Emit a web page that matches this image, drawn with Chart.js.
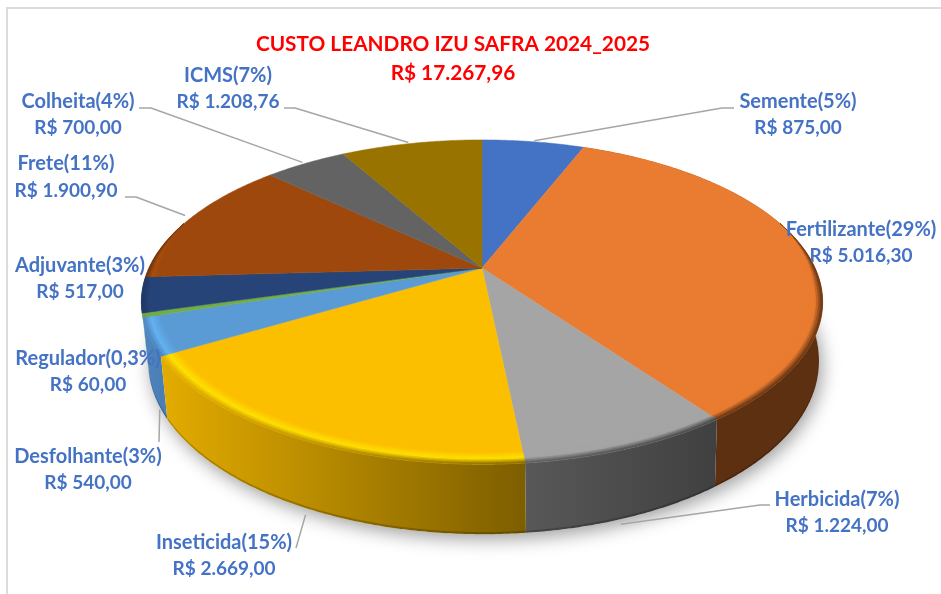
<!DOCTYPE html>
<html>
<head>
<meta charset="utf-8">
<style>
html,body{margin:0;padding:0;background:#fff;overflow:hidden;width:941px;height:594px}
#frame{position:absolute;left:6px;top:7px;width:960px;height:620px;border-left:2px solid #dcdcdc;border-top:2px solid #dcdcdc}
#wrap{position:absolute;left:0;top:0;width:941px;height:594px}
</style>
<script src="https://cdn.jsdelivr.net/npm/chart.js@4/dist/chart.umd.min.js"></script>
</head>
<body>
<div id="frame"></div>
<div id="wrap"><canvas id="c" width="941" height="594"></canvas></div>
<script>
const titleLines = ['CUSTO LEANDRO IZU SAFRA 2024_2025', 'R$ 17.267,96'];
const categories = ['Semente','Fertilizante','Herbicida','Inseticida','Desfolhante','Regulador','Adjuvante','Frete','Colheita','ICMS'];
const percents = ['5%','29%','7%','15%','3%','0,3%','3%','11%','4%','7%'];
const values = [875, 5016.30, 1224, 2669, 540, 60, 517, 1900.90, 700, 1208.76];
const colors = ['#4472c4','#ea7c31','#a5a5a5','#fcbf00','#5b9bd5','#70ad47','#264478','#9e480e','#636363','#997300'];
const ridgeColors = ['#4472c4','#ea7c31','#a5a5a5','#ffe100','#64b2f2','#70ad47','#264478','#a8500f','#636363','#997300'];
const wallStart = ['#2f528f','#5e3012','#404040','#7d5e00','#4a7fb5','#6f9f50','#1f3864','#6f330a','#444444','#6b5000'];
const wallEnd   = ['#2f528f','#5e3012','#585858','#e4ac00','#4f86bd','#6f9f50','#1f3864','#6f330a','#444444','#6b5000'];
// slices whose side wall shows, painted back to front
const wallOrder = [1, 2, 5, 4, 3];

// label placement: centre x, y of the two lines
const labelX  = [798, 861, 837, 224, 88, 88, 80, 66, 78, 228];
const labelY1 = [102, 230, 500, 543, 457, 359, 266, 164, 102, 76];
const labelY2 = [128, 256, 526, 569, 483, 385, 292, 191, 128, 102];
// leader lines: rim used, offset from rim point, then elbow points
const leaders = [
  {i:0, rim:'top', dx:1, dy:-1, pts:[[722,108],[734,108]]},
  {i:9, rim:'top', dx:-3, dy:-1, pts:[[295,108],[284,108]]},
  {i:8, rim:'top', dx:-3, dy:-1, pts:[[151,108],[139,108]]},
  {i:7, rim:'top', dx:-5, dy:-3, pts:[[136,197],[125,197]]},
  {i:2, rim:'bottom', dx:-8, dy:7, pts:[[760,505],[770,505]]},
  {i:3, rim:'bottom', dx:4, dy:8, pts:[[296,548]]},
  {i:4, rim:'bottom', dx:4, dy:11, pts:[[159,442]]}
];

const FONT = 'Lato, Carlito, sans-serif';
const PROJ = {cx:482, cy:268, rx:333, q:155, p:0.21};

function proj(th, r){
  const x = r*Math.sin(th), y = -r*Math.cos(th), w = 1 - PROJ.p*y;
  return [PROJ.cx + PROJ.rx*x/w, PROJ.cy + PROJ.q*y/w, y];
}
function projLow(th, inset){
  const t = proj(th, 1);
  return [PROJ.cx + (t[0]-PROJ.cx)*0.985 + 1.5, t[1] + 56 + 14*t[2] - (inset||0), t[2]];
}
function hex(c){ return [1,3,5].map(i=>parseInt(c.substr(i,2),16)); }
function mix(a,b,t){
  const A=hex(a),B=hex(b);
  return '#'+A.map((v,i)=>Math.round(v+(B[i]-v)*t).toString(16).padStart(2,'0')).join('');
}
function quad(ctx, pts, col){
  ctx.beginPath();
  pts.forEach((p,i)=> i?ctx.lineTo(p[0],p[1]):ctx.moveTo(p[0],p[1]));
  ctx.closePath();
  ctx.fillStyle=col; ctx.strokeStyle=col; ctx.lineWidth=0.6;
  ctx.fill(); ctx.stroke();
}
const STEP = Math.PI/360;
function band(g, upper, lower){
  const n=Math.max(2,Math.ceil((g[1]-g[0])/STEP)), pts=[];
  for(let k=0;k<=n;k++) pts.push(upper(g[0]+(g[1]-g[0])*k/n));
  for(let k=n;k>=0;k--) pts.push(lower(g[0]+(g[1]-g[0])*k/n));
  return pts;
}

const pie3d = {
  id:'pie3d',
  beforeDatasetsDraw(chart){
    const ctx = chart.ctx, arcs = chart.getDatasetMeta(0).data;
    const ang = arcs.map(a=>{
      const s=a.getProps(['startAngle','endAngle'],true);
      return [s.startAngle+Math.PI/2, s.endAngle+Math.PI/2];
    });
    ctx.save();
    // soft shadow of the base
    ctx.save();
    ctx.shadowColor='rgba(0,0,0,0.38)'; ctx.shadowBlur=18; ctx.shadowOffsetY=5; ctx.shadowOffsetX=3;
    ctx.beginPath();
    for(let a=0;a<Math.PI*2;a+=STEP*2){ const p=projLow(a); a?ctx.lineTo(p[0],p[1]):ctx.moveTo(p[0],p[1]); }
    ctx.closePath(); ctx.fillStyle='#fff'; ctx.fill();
    ctx.restore();
    // walls
    wallOrder.forEach(i=>{
      const g=ang[i];
      const x0=proj(g[0],1)[0], x1=proj(g[1],1)[0];
      const grad=ctx.createLinearGradient(x0,0,x1,0);
      grad.addColorStop(0,wallStart[i]); grad.addColorStop(1,wallEnd[i]);
      const pts=band(g,a=>proj(a,1),a=>projLow(a));
      ctx.beginPath();
      pts.forEach((p,k)=> k?ctx.lineTo(p[0],p[1]):ctx.moveTo(p[0],p[1]));
      ctx.closePath(); ctx.fillStyle=grad; ctx.fill();
      const lip=band(g,a=>projLow(a,2.2),a=>projLow(a));
      ctx.beginPath();
      lip.forEach((p,k)=> k?ctx.lineTo(p[0],p[1]):ctx.moveTo(p[0],p[1]));
      ctx.closePath(); ctx.fillStyle='rgba(0,0,0,0.2)'; ctx.fill();
    });
    // top faces
    ang.forEach((g,i)=>{
      ctx.beginPath();
      ctx.moveTo(PROJ.cx,PROJ.cy);
      const n=Math.max(2,Math.ceil((g[1]-g[0])/STEP));
      for(let k=0;k<=n;k++){ const p=proj(g[0]+(g[1]-g[0])*k/n,1); ctx.lineTo(p[0],p[1]); }
      ctx.closePath();
      ctx.fillStyle=colors[i]; ctx.strokeStyle=colors[i]; ctx.lineWidth=0.5;
      ctx.fill(); ctx.stroke();
    });
    // bevel on the front part of the rim
    const RINGS=8, BW=0.048;
    ang.forEach((g,i)=>{
      const n=Math.max(2,Math.ceil((g[1]-g[0])/STEP));
      const x0=proj(g[0],1)[0], x1=proj(g[1],1)[0];
      for(let k=0;k<n;k++){
        const a=g[0]+(g[1]-g[0])*k/n, b=g[0]+(g[1]-g[0])*(k+1)/n;
        const y=proj((a+b)/2,1)[2];
        const s=Math.min(1,(y+0.3)/0.4);
        if(s<=0) continue;
        const xm=proj((a+b)/2,1)[0];
        const wall=mix(wallStart[i],wallEnd[i],Math.min(1,Math.max(0,(xm-x0)/(x1-x0||1))));
        for(let j=0;j<RINGS;j++){
          const t0=j/RINGS,t1=(j+1)/RINGS,t=(t0+t1)/2;
          const r0=1-BW*s*(1-t0), r1=1-BW*s*(1-t1);
          const ridgeAt=0.55;
          const col=t<ridgeAt?mix(colors[i],ridgeColors[i],t/ridgeAt)
                             :mix(ridgeColors[i],wall,(t-ridgeAt)/(1-ridgeAt));
          quad(ctx,[proj(a,r0),proj(b,r0),proj(b,r1),proj(a,r1)],col);
        }
      }
    });
    // leader lines
    ctx.strokeStyle='#a6a6a6'; ctx.lineWidth=1.5; ctx.lineJoin='round';
    leaders.forEach(L=>{
      const g=ang[L.i], mid=(g[0]+g[1])/2;
      const s=L.rim==='top'?proj(mid,1):projLow(mid);
      ctx.beginPath(); ctx.moveTo(s[0]+L.dx,s[1]+L.dy);
      L.pts.forEach(p=>ctx.lineTo(p[0],p[1]));
      ctx.stroke();
    });
    ctx.restore();
    return false;
  },
  afterDraw(chart){
    const ctx=chart.ctx;
    ctx.save();
    ctx.fillStyle='#4472c4'; ctx.textAlign='center'; ctx.textBaseline='middle';
    categories.forEach((c,i)=>{
      const money='R$ '+values[i].toLocaleString('pt-BR',{minimumFractionDigits:2,maximumFractionDigits:2});
      ctx.font='bold 20px '+FONT;
      ctx.fillText(c+'('+percents[i]+')',labelX[i],labelY1[i]);
      ctx.font='bold 19px '+FONT;
      ctx.fillText(money,labelX[i],labelY2[i]);
    });
    ctx.restore();
  }
};

new Chart(document.getElementById('c'),{
  type:'pie',
  data:{labels:categories,datasets:[{data:values,backgroundColor:colors,borderWidth:0}]},
  plugins:[pie3d],
  options:{
    responsive:false,animation:false,
    layout:{padding:{right:35}},
    plugins:{
      legend:{display:false},tooltip:{enabled:false},
      title:{display:true,text:titleLines,color:'#ff0000',fullSize:false,
        font:{family:FONT,size:20.8,weight:'bold',lineHeight:1.38},
        padding:{top:30,bottom:0}}
    }
  }
});
</script>
</body>
</html>
